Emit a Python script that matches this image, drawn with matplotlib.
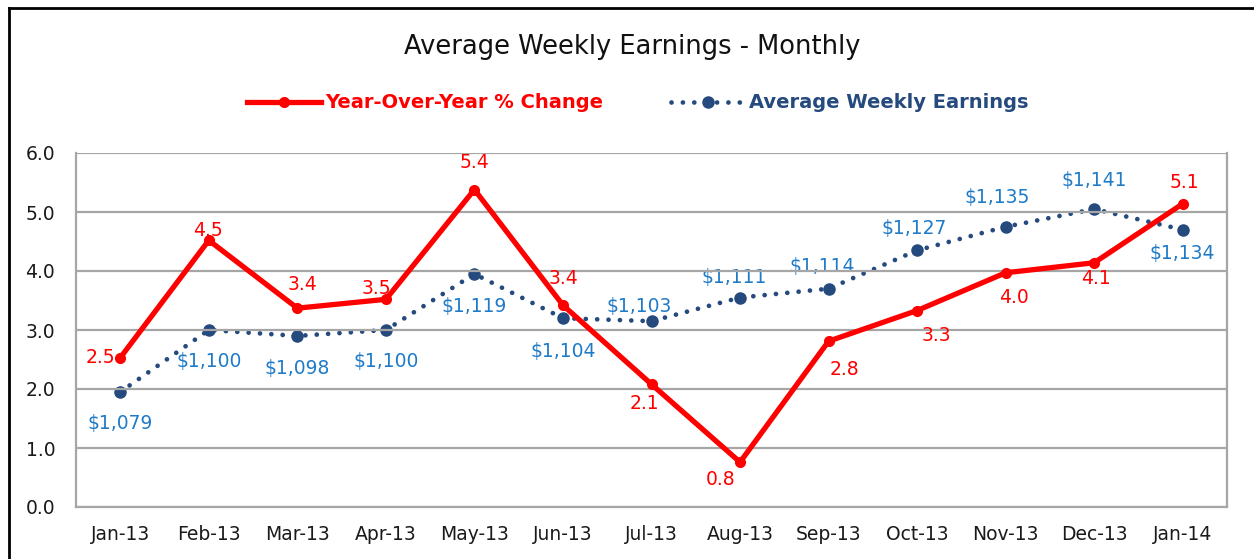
import matplotlib
matplotlib.use("Agg")
import matplotlib.pyplot as plt
from matplotlib.lines import Line2D

months = ["Jan-13", "Feb-13", "Mar-13", "Apr-13", "May-13", "Jun-13", "Jul-13",
          "Aug-13", "Sep-13", "Oct-13", "Nov-13", "Dec-13", "Jan-14"]
yoy_change = [2.53, 4.52, 3.37, 3.52, 5.38, 3.42, 2.08, 0.76, 2.81, 3.33, 3.97, 4.14, 5.14]
weekly_earnings = [1079, 1100, 1098, 1100, 1119, 1104, 1103, 1111, 1114, 1127, 1135, 1141, 1134]
y_ticks = [0, 1, 2, 3, 4, 5, 6]

# label offsets from their point, in pixels (dx right, dy down)
yoy_label_offsets = [(-20, 0), (-1, -10), (5, -24), (-10, -11), (0, -27), (0, -27), (-7, 19),
                     (-19, 17), (16, 28), (19, 25), (8, 25), (2, 16), (2, -21)]
earn_label_offsets = [(0, 32), (0, 32), (0, 33), (0, 31), (0, 33), (0, 33), (-12, -15),
                      (-6, -20), (-6, -22), (-3, -22), (-8, -29), (0, -29), (0, 24)]

RED = "#FF0000"
NAVY = "#254A7E"
LBLUE = "#1F7BC8"
GRID = "#A6A6A6"

plt.rcParams['font.family'] = ['DejaVu Sans']

W, H = 1254, 559
fig = plt.figure(figsize=(W / 100, H / 100), dpi=100)
ax = fig.add_axes([76 / W, 1 - 507 / H, (1227 - 76) / W, (507 - 153) / H])
ax2 = ax.twinx()

x = list(range(len(months)))

ax.set_ylim(0, 6)
ax.set_xlim(-0.5, len(months) - 0.5)
ax2.set_ylim(1040, 1160)
ax.set_yticks(y_ticks)
ax.set_yticklabels([f"{v:.1f}" for v in y_ticks], fontsize=13.5, color="#1a1a1a")
ax.set_xticks(x)
ax.set_xticklabels(months, fontsize=13.5, color="#1a1a1a")
ax.tick_params(axis="both", length=0)
ax.tick_params(axis="y", pad=15)
ax.tick_params(axis="x", pad=13)
ax.grid(axis="y", color=GRID, linewidth=1.6)
ax.set_axisbelow(True)
for s in ["left", "right", "bottom"]:
    ax.spines[s].set_color(GRID)
    ax.spines[s].set_linewidth(1.6)
ax.spines["top"].set_visible(False)
for s in ax2.spines.values():
    s.set_visible(False)
ax2.set_yticks([])

# Earnings (secondary, hidden axis)
ax2.plot(x, weekly_earnings, color=NAVY, linewidth=3.4, linestyle=(0, (0.01, 2.4)),
         dash_capstyle="round", marker="o", markersize=8, markerfacecolor=NAVY,
         markeredgecolor=NAVY, zorder=2)
# YoY (primary)
ax.plot(x, yoy_change, color=RED, linewidth=3.8, marker="o", markersize=7,
        markerfacecolor=RED, markeredgecolor=RED, zorder=3)
ax.set_zorder(ax2.get_zorder() + 1)
ax.patch.set_visible(False)

for xi, v, (dx, dy) in zip(x, yoy_change, yoy_label_offsets):
    ax.annotate(f"{v:.1f}", (xi, v), xytext=(dx, -dy), textcoords="offset pixels",
                ha="center", va="center", color=RED, fontsize=13.5)

for xi, v, (dx, dy) in zip(x, weekly_earnings, earn_label_offsets):
    ax2.annotate(f"${v:,.0f}", (xi, v), xytext=(dx, -dy), textcoords="offset pixels",
                 ha="center", va="center", color=LBLUE, fontsize=13.5)

fig.text(632 / W, 1 - 47 / H, "Average Weekly Earnings - Monthly", ha="center",
         va="center", fontsize=18.5, color="#111111")

handles = [
    Line2D([], [], color=RED, linewidth=3.8, marker="o", markersize=7),
    Line2D([], [], color=NAVY, linewidth=3.4, linestyle=(0, (0.01, 2.4)),
           dash_capstyle="round", marker="o", markersize=8),
]
leg = fig.legend(handles, ["Year-Over-Year % Change", "Average Weekly Earnings"],
                 loc="center", bbox_to_anchor=(638 / W, 1 - 103 / H), ncol=2,
                 frameon=False, handlelength=3.8, handletextpad=0.2, columnspacing=3.5,
                 prop={"weight": "bold", "size": 14})
for t, c in zip(leg.get_texts(), [RED, NAVY]):
    t.set_color(c)

# outer chart border (top and left visible in the reference)
fig.add_artist(Line2D([9 / W, 9 / W], [0, 1 - 8 / H], color="black", linewidth=2,
                      transform=fig.transFigure))
fig.add_artist(Line2D([9 / W, 1], [1 - 8 / H, 1 - 8 / H], color="black", linewidth=2,
                      transform=fig.transFigure))

fig.savefig("out.png", dpi=100, facecolor="white")
